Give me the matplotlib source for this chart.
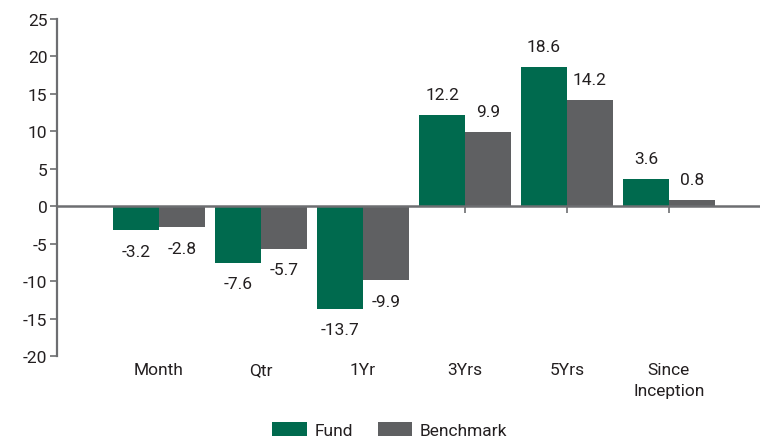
import matplotlib
matplotlib.use("Agg")
import matplotlib.pyplot as plt
from matplotlib.patches import Patch
import numpy as np

categories = ["Month", "Qtr", "1Yr", "3Yrs", "5Yrs", "Since\nInception"]
fund = [-3.2, -7.6, -13.7, 12.2, 18.6, 3.6]
benchmark = [-2.8, -5.7, -9.9, 9.9, 14.2, 0.8]
series_names = ["Fund", "Benchmark"]
yticks = [25, 20, 15, 10, 5, 0, -5, -10, -15, -20]

GREEN = "#006a4e"
GREY = "#5f6062"
AXIS = "#6d6e71"
TEXT = "#231f20"

plt.rcParams['font.family'] = ['Roboto', 'DejaVu Sans']
FS = 12.5

fig = plt.figure(figsize=(7.6, 4.39), dpi=100)
ax = fig.add_axes([57/760, 82/439, 1 - 57/760, (357-20)/439])

x = np.arange(len(categories))
w = 0.45
b1 = ax.bar(x - w/2, fund, w, color=GREEN, zorder=2)
b2 = ax.bar(x + w/2, benchmark, w, color=GREY, zorder=2)

for bars, vals in ((b1, fund), (b2, benchmark)):
    for rect, v in zip(bars, vals):
        cx = rect.get_x() + rect.get_width()/2
        off = 15 if v >= 0 else -15
        ax.annotate(f"{v:.1f}", (cx, v), xytext=(0, off),
                    textcoords="offset points", ha="center", va="center",
                    fontsize=FS, color=TEXT)

ax.set_xlim(-1.0, (760-159)/102)
ax.set_ylim(-20, 25)
ax.set_yticks(yticks)
ax.set_yticklabels([str(t) for t in yticks], fontsize=FS, color=TEXT)

for s in ("top", "right"):
    ax.spines[s].set_visible(False)
ax.spines["left"].set_color(AXIS)
ax.spines["left"].set_linewidth(1.6)
ax.spines["bottom"].set_position(("data", 0))
ax.spines["bottom"].set_color(AXIS)
ax.spines["bottom"].set_linewidth(1.8)
ax.spines["bottom"].set_zorder(3)

ax.set_xticks(x)
ax.set_xticklabels([])
ax.tick_params(axis="x", direction="out", length=5, width=1.2, color=AXIS)
ax.tick_params(axis="y", direction="out", length=5, width=1.2, color=AXIS, pad=2)

for xi, c in zip(x, categories):
    ax.annotate(c, (xi, 0), xycoords=("data", "axes fraction"), xytext=(0, -4.5),
                textcoords="offset points", ha="center", va="top",
                fontsize=FS, color=TEXT, linespacing=1.5)

handles = [Patch(facecolor=GREEN), Patch(facecolor=GREY)]
fig.legend(handles, series_names, loc="lower center", bbox_to_anchor=(0.513, -0.035),
           ncol=2, frameon=False, fontsize=FS, handlelength=2.0, handleheight=0.9,
           columnspacing=1.4, handletextpad=0.45, labelcolor=TEXT)

fig.savefig("out.png", dpi=100)
